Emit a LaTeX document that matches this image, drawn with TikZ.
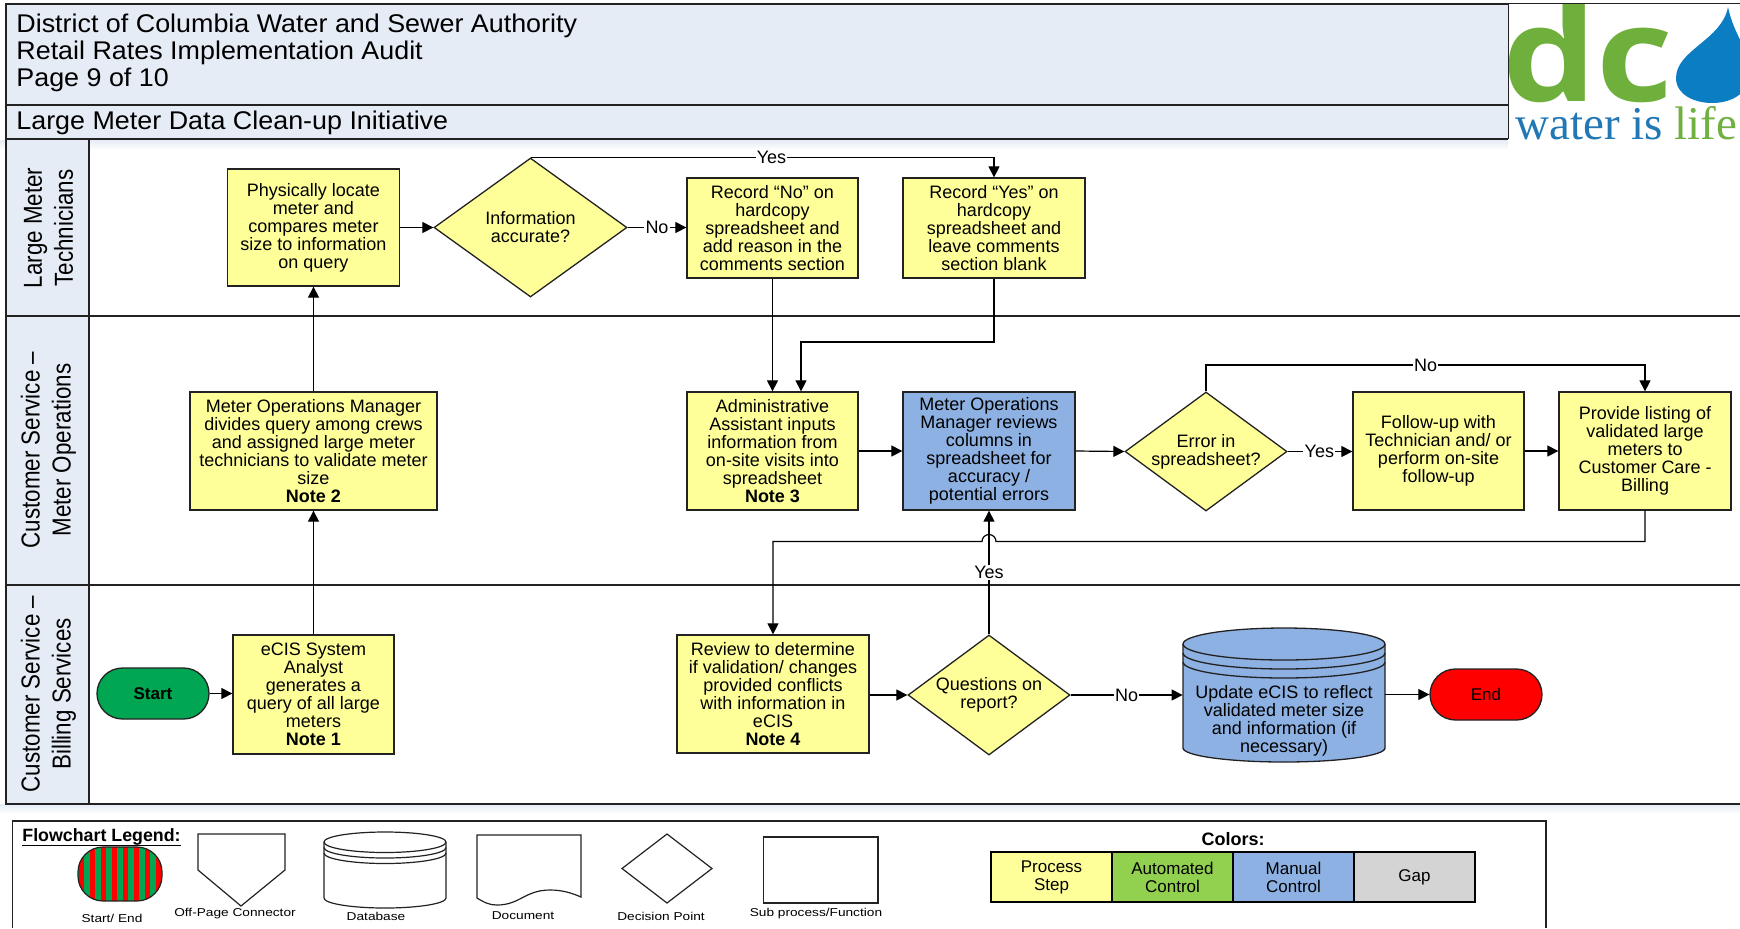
\documentclass[tikz,border=0pt]{standalone}
\usepackage{fontspec}
\setmainfont{Liberation Sans}
\newfontfamily\logofont{Open Sans}
\newfontfamily\logoserif{Liberation Serif}
\newfontfamily\titlefont[FakeStretch=1.05]{Liberation Sans}
\newfontfamily\legfont[FakeStretch=1.2]{Liberation Sans}
\usetikzlibrary{shapes.geometric,shapes.misc,arrows.meta}
\definecolor{hdr}{HTML}{E6ECF6}
\definecolor{proc}{HTML}{FFFF99}
\definecolor{manual}{HTML}{8DB1E2}
\definecolor{auto}{HTML}{92D050}
\definecolor{gapc}{HTML}{D4D4D4}
\definecolor{startc}{HTML}{00A651}
\definecolor{edge}{HTML}{222222}
\definecolor{logog}{HTML}{6FB03C}
\definecolor{logob}{HTML}{0B7DC3}
\tikzset{
  bx/.style={draw=edge,line width=0.65pt,inner sep=0pt,align=center,font=\fontsize{9}{9}\selectfont},
  yel/.style={bx,fill=proc},
  blu/.style={bx,fill=manual},
  dia/.style={yel,shape=diamond,shape aspect=1.37},
  flow/.style={draw=black,line width=0.6pt,-{Triangle[length=5.5pt,width=5.5pt]}},
  lbl/.style={fill=white,inner sep=0.6pt,font=\fontsize{9}{9}\selectfont},
  lane/.style={rotate=90,align=center,inner sep=0pt,font=\fontsize{13}{15.5}\selectfont},
  heavy/.style={draw=edge,line width=0.75pt},
  legtxt/.style={inner sep=0pt,font=\legfont\fontsize{5.7}{6}\selectfont},
  colt/.style={bx,font=\fontsize{8.5}{9}\selectfont,draw=black,line width=0.75pt},
  titletxt/.style={inner sep=0pt,font=\titlefont\fontsize{12.8}{13.4}\selectfont},
  legshape/.style={draw=edge,line width=0.6pt,fill=white},
  dbline/.style={draw=edge,line width=0.65pt},
}
\newcommand{\nd}[7][]{\node[#2,minimum width={(#5-#3)*0.5pt},minimum height={(#6-#4)*0.5pt},#1] (#7) at ({(#3+#5)/2},{(#4+#6)/2})}
\newcommand{\lanelabel}[1]{\scalebox{.86}[1]{#1}}
\begin{document}
\begin{tikzpicture}[x=0.5pt,y=-0.5pt]
\useasboundingbox (0,0) rectangle (1740,928);
% soft shadows
\shade[top color=hdr,bottom color=white] (0,140) rectangle (1508,150);
\shade[top color=hdr,bottom color=white] (0,804) rectangle (1740,814);
% header
\path[fill=hdr] (6,4) rectangle (1508,139);
\draw[heavy] (6,139) -- (6,4) -- (1740,4);
\draw[heavy] (6,105) -- (1508,105);
\draw[heavy] (6,139) -- (1740,139);
\node[titletxt,anchor=west,align=left] (title) at (16,53) {District of Columbia Water and Sewer Authority\\Retail Rates Implementation Audit\\Page 9 of 10};
\node[titletxt,anchor=west] (subtitle) at (16,123) {Large Meter Data Clean-up Initiative};
% logo
\begin{scope}
\clip (1508,4) rectangle (1740,140);
\fill[white] (1508,4) rectangle (1740,140);
\node[anchor=base west,inner sep=0pt,text=logog,font=\logofont\bfseries\fontsize{66}{66}\selectfont] (logodc) at (1502,101) {\scalebox{1.13}[1]{dc}};
\fill[logob] (1728,7) .. controls (1722,40) and (1676,50) .. (1676,78) .. controls (1676,95) and (1695,103) .. (1712,103) .. controls (1730,103) and (1745,95) .. (1750,80) .. controls (1752,50) and (1735,40) .. (1728,7);
\node[anchor=base west,inner sep=0pt,font=\logoserif\fontsize{23.5}{23.5}\selectfont] (logotxt) at (1515,139) {\textcolor[rgb]{0.13,0.47,0.71}{water is }\textcolor[rgb]{0.44,0.69,0.25}{life}};
\end{scope}
\draw[draw=edge,line width=0.4pt] (1508,4) -- (1508,139);
% swimlanes
\path[fill=hdr] (6,139) rectangle (89,804);
\draw[heavy] (6,139) rectangle (89,804);
\draw[heavy] (6,316) -- (1740,316);
\draw[heavy] (6,585) -- (1740,585);
\draw[heavy] (6,804) -- (1740,804);
\node[lane] (lane1) at (48.5,228) {\lanelabel{Large Meter}\\\lanelabel{Technicians}};
\node[lane] (lane2) at (48.5,450) {\lanelabel{Customer Service –}\\\lanelabel{Meter Operations}};
\node[lane] (lane3) at (48.5,694) {\lanelabel{Customer Service –}\\\lanelabel{Billing Services}};
% process nodes
\nd{yel}{227.5}{169}{399.5}{286}{locate} {Physically locate\\meter and\\compares meter\\size to information\\on query};
\nd{dia}{434}{158}{627}{297}{accurate} {Information\\accurate?};
\nd{yel}{687}{178}{858}{278}{recno} {Record “No” on\\hardcopy\\spreadsheet and\\add reason in the\\comments section};
\nd{yel}{903}{178}{1085}{278}{recyes} {Record “Yes” on\\hardcopy\\spreadsheet and\\leave comments\\section blank};
\nd{yel}{190}{392}{437}{510}{divides} {Meter Operations Manager\\divides query among crews\\and assigned large meter\\technicians to validate meter\\size\\\textbf{Note 2}};
\nd{yel}{687}{392}{858}{510}{admin} {Administrative\\Assistant inputs\\information from\\on-site visits into\\spreadsheet\\\textbf{Note 3}};
\nd{blu}{903}{392}{1075}{510}{reviews} {Meter Operations\\Manager reviews\\columns in\\spreadsheet for\\accuracy /\\potential errors};
\nd{dia}{1125}{392}{1287}{511}{error} {Error in\\spreadsheet?};
\nd{yel}{1353}{392}{1524}{510}{follow} {Follow-up with\\Technician and/ or\\perform on-site\\follow-up};
\nd{yel}{1559}{392}{1731}{510}{listing} {Provide listing of\\validated large\\meters to\\Customer Care -\\Billing};
\nd[rounded rectangle,fill=startc,font=\fontsize{8.5}{9}\selectfont\bfseries]{bx}{97}{668}{209}{719}{start} {Start};
\nd{yel}{233}{635}{394}{754}{query} {eCIS System\\Analyst\\generates a\\query of all large\\meters\\\textbf{Note 1}};
\nd{yel}{677}{635}{869}{753}{review} {Review to determine\\if validation/ changes\\provided conflicts\\with information in\\eCIS\\\textbf{Note 4}};
\nd{dia}{908}{635}{1070}{755}{questions} {Questions on\\report?};
% database
\path[dbline,fill=manual] (1183,644) arc[x radius=101,y radius=16,start angle=180,end angle=360] -- (1385,748) arc[x radius=101,y radius=14,start angle=0,end angle=180] -- cycle;
\foreach \ry in {644,653,662}{\draw[dbline] (1183,\ry) arc[x radius=101,y radius=16,start angle=180,end angle=0];}
\node[align=center,inner sep=0pt,font=\fontsize{9}{9}\selectfont,minimum width=101pt] (db) at (1284,721) {Update eCIS to reflect\\validated meter size\\and information (if\\necessary)};
\nd[rounded rectangle,fill=red,font=\fontsize{8.5}{9}\selectfont]{bx}{1430}{669}{1542}{720}{end} {End};
% connectors
\draw[flow] (start.east) -- (query.west |- start.east);
\draw[flow] (query.north) -- (query.north |- divides.south);
\draw[flow] (divides.north) -- (divides.north |- locate.south);
\draw[flow] (locate.east |- accurate.west) -- (accurate.west);
\draw[flow] (accurate.east) -- node[lbl] (lno1) {No} (recno.west |- accurate.east);
\coordinate (t1) at (recyes.north |- accurate.north);
\draw[flow] (accurate.north) -- node[lbl,pos=.52] (lyes1) {Yes} (t1) -- (recyes.north);
\draw[flow] (recno.south) -- (admin.north);
\coordinate (t2) at (recyes.south |- 0,342);
\coordinate (t3) at (801,342);
\draw[flow] (recyes.south) -- (t2) -- (t3) -- (t3 |- admin.north);
\draw[flow] (admin.east) -- (reviews.west);
\draw[flow] (reviews.east) -- (error.west);
\draw[flow] (error.east) -- node[lbl,pos=.49] (lyes2) {Yes} (follow.west |- error.east);
\draw[flow] (follow.east) -- (listing.west);
\coordinate (t4) at (error.north |- 0,365);
\coordinate (t5) at (listing.north |- 0,365);
\draw[flow] (error.north) -- (t4) -- node[lbl,pos=.5] (lno2) {No} (t5) -- (listing.north);
\coordinate (t6) at (listing.south |- 0,541.5);
\coordinate (t7) at (review.north |- 0,541.5);
\coordinate (jr) at (996,541.5);
\draw[flow] (listing.south) -- (t6) -- (jr) arc[radius=7,start angle=0,end angle=-180] -- (t7) -- (review.north);
\draw[flow] (questions.north) -- node[lbl,pos=.5] (lyes3) {Yes} (reviews.south);
\draw[flow] (review.east |- questions.west) -- (questions.west);
\draw[flow] (questions.east) -- node[lbl,pos=.5] (lno3) {No} (db.west |- questions.east);
\draw[flow] (db.east |- end.west) -- (end.west);
% legend
\draw[draw=edge,line width=0.7pt] (12.6,928) -- (12.6,821) -- (1546,821) -- (1546,928);
\node[anchor=west,inner sep=0pt,font=\fontsize{8.9}{9}\selectfont\bfseries] (legtitle) at (22,837) {Flowchart Legend:};
\draw[black,line width=0.6pt] (legtitle.south west) -- (legtitle.south east);
\begin{scope}
\clip[rounded corners=12.5pt] (78,847) rectangle (162,901);
\fill[startc] (70,847) rectangle (170,901);
\foreach \sx in {78.7,89.7,100.7,111.7,122.7,133.7,144.7,155.7}{\fill[red] (\sx,845) rectangle (\sx+5.5,903);}
\end{scope}
\draw[draw=edge,line width=0.6pt,rounded corners=12.5pt] (78,847) rectangle (162,901);
\draw[legshape] (198,834) -- (285,834) -- (285,870) -- (241,906) -- (198,870) -- cycle;
\path[legshape] (324,842) arc[x radius=61,y radius=10,start angle=180,end angle=360] -- (446,898) arc[x radius=61,y radius=10,start angle=0,end angle=180] -- cycle;
\foreach \ry in {842,847.5,853}{\draw[draw=edge,line width=0.6pt] (324,\ry) arc[x radius=61,y radius=10.5,start angle=180,end angle=0];}
\draw[legshape] (477,835) -- (581,835) -- (581,897) .. controls (572,893) and (562,890) .. (550,890) .. controls (525,890) and (520,905) .. (497,905) .. controls (490,905) and (485,903) .. (477,898) -- cycle;
\draw[legshape] (667,834) -- (712,868.5) -- (667,903) -- (622,868.5) -- cycle;
\draw[draw=edge,line width=0.75pt] (763.5,837) rectangle (878,903);
\node[legtxt] (l1) at (112,918) {Start/ End};
\node[legtxt] (l2) at (235,914) {Off-Page Connector};
\node[legtxt] (l3) at (376,916) {Database};
\node[legtxt] (l4) at (523,916) {Document};
\node[legtxt] (l5) at (661,916) {Decision Point};
\node[legtxt] (l6) at (816,914) {Sub process/Function};
\node[inner sep=0pt,font=\fontsize{9}{9}\selectfont\bfseries] (colors) at (1233,839) {Colors:};
\nd[fill=proc]{colt}{991}{852}{1112}{902}{c1} {Process\\Step};
\nd[fill=auto]{colt}{1112}{852}{1233}{902}{c2} {Automated\\Control};
\nd[fill=manual]{colt}{1233}{852}{1354}{902}{c3} {Manual\\Control};
\nd[fill=gapc]{colt}{1354}{852}{1475}{902}{c4} {Gap};
\end{tikzpicture}
\end{document}
